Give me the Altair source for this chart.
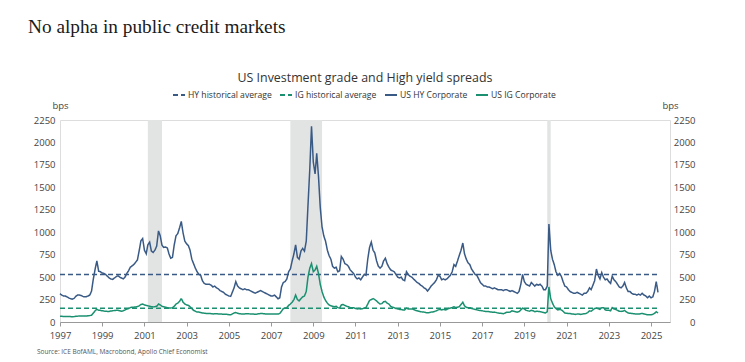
import altair as alt
import pandas as pd

# Monthly spreads (bps), Jan 1997 .. May 2025
HY_SPREAD = [
    315, 300, 290, 290, 280, 268, 260, 255, 262, 285, 300, 300,      # 1997
    295, 285, 280, 282, 290, 300, 345, 480, 590, 680, 565, 560,      # 1998
    545, 540, 530, 510, 490, 478, 475, 490, 505, 515, 500, 490,      # 1999
    480, 500, 540, 570, 610, 625, 640, 665, 690, 790, 905, 930,      # 2000
    800, 760, 860, 890, 790, 775, 800, 845, 1015, 960, 855, 830,     # 2001
    835, 825, 760, 710, 720, 860, 960, 985, 1050, 1120, 990, 900,    # 2002
    870, 850, 800, 700, 650, 600, 560, 530, 520, 460, 430, 420,      # 2003
    420, 420, 410, 390, 400, 380, 370, 350, 340, 330, 310, 300,      # 2004
    290, 285, 330, 380, 450, 400, 380, 370, 360, 370, 360, 360,      # 2005
    350, 340, 330, 320, 330, 340, 350, 340, 330, 320, 310, 300,      # 2006
    290, 290, 300, 280, 258, 270, 390, 440, 450, 480, 560, 590,      # 2007
    680, 760, 860, 720, 700, 790, 820, 790, 900, 1300, 1700, 2180,   # 2008
    1780, 1650, 1880, 1620, 1280, 1060, 960, 900, 800, 740, 700, 620,  # 2009
    600, 610, 560, 570, 730, 700, 650, 640, 620, 580, 560, 540,      # 2010
    500, 480, 490, 470, 500, 530, 520, 700, 830, 890, 800, 770,      # 2011
    680, 620, 600, 620, 680, 710, 650, 610, 580, 570, 560, 530,      # 2012
    500, 490, 500, 470, 460, 560, 530, 510, 500, 480, 460, 440,      # 2013
    430, 410, 400, 380, 370, 345, 370, 400, 420, 440, 470, 520,      # 2014
    510, 470, 480, 470, 480, 500, 520, 560, 640, 620, 680, 740,      # 2015
    800, 880, 760, 700, 660, 640, 590, 560, 530, 520, 480, 440,      # 2016
    420, 400, 400, 390, 390, 380, 370, 380, 370, 360, 360, 360,      # 2017
    350, 360, 360, 350, 340, 350, 340, 330, 320, 340, 420, 530,      # 2018
    450, 420, 410, 400, 440, 420, 400, 420, 410, 420, 400, 360,      # 2019
    360, 400, 1090, 800, 700, 640, 560, 520, 540, 510, 450, 400,     # 2020
    390, 360, 340, 330, 320, 320, 330, 320, 310, 300, 320, 320,      # 2021
    340, 380, 360, 410, 460, 590, 520, 480, 550, 500, 470, 480,      # 2022
    450, 430, 510, 470, 450, 420, 390, 380, 400, 440, 380, 340,      # 2023
    340, 320, 310, 310, 300, 310, 300, 320, 300, 290, 270, 290,      # 2024
    270, 280, 340, 450, 330,                                         # 2025
]

IG_SPREAD = [
    65, 63, 62, 62, 60, 60, 60, 58, 60, 64, 65, 67,                  # 1997
    67, 66, 66, 66, 70, 72, 75, 100, 125, 142, 130, 130,             # 1998
    125, 122, 120, 118, 118, 122, 125, 128, 130, 130, 125, 120,      # 1999
    125, 135, 145, 150, 160, 165, 165, 168, 172, 180, 195, 200,      # 2000
    190, 185, 180, 175, 170, 168, 170, 175, 200, 190, 175, 170,      # 2001
    165, 160, 155, 155, 160, 175, 200, 210, 230, 262, 220, 200,      # 2002
    190, 185, 170, 150, 130, 120, 110, 110, 105, 100, 98, 96,        # 2003
    95, 95, 92, 90, 92, 92, 90, 90, 88, 86, 85, 85,                  # 2004
    82, 80, 90, 100, 105, 98, 92, 90, 88, 90, 92, 92,                # 2005
    90, 88, 88, 86, 88, 92, 94, 94, 92, 90, 90, 88,                  # 2006
    88, 88, 90, 88, 88, 95, 120, 150, 155, 160, 185, 200,            # 2007
    220, 250, 300, 250, 235, 260, 280, 290, 340, 500, 600, 650,      # 2008
    560, 580, 620, 540, 420, 340, 280, 240, 210, 190, 180, 175,      # 2009
    170, 175, 160, 155, 190, 195, 185, 175, 170, 160, 160, 160,      # 2010
    150, 145, 150, 145, 148, 155, 160, 200, 240, 250, 260, 250,      # 2011
    235, 215, 200, 205, 225, 230, 210, 200, 175, 165, 160, 150,      # 2012
    145, 140, 140, 135, 135, 155, 145, 145, 145, 140, 130, 125,      # 2013
    120, 115, 112, 110, 105, 102, 105, 110, 112, 118, 125, 135,      # 2014
    140, 135, 140, 135, 140, 150, 155, 160, 170, 160, 165, 170,      # 2015
    195, 220, 180, 165, 160, 160, 150, 145, 140, 135, 130, 128,      # 2016
    125, 120, 118, 118, 115, 112, 108, 110, 105, 100, 98, 96,        # 2017
    92, 100, 108, 108, 112, 125, 120, 115, 110, 115, 135, 155,       # 2018
    145, 130, 125, 120, 130, 125, 115, 120, 118, 115, 110, 105,      # 2019
    100, 115, 390, 260, 210, 170, 150, 135, 140, 135, 120, 100,      # 2020
    98, 95, 95, 90, 88, 85, 88, 90, 85, 88, 92, 95,                  # 2021
    105, 125, 120, 135, 150, 155, 150, 140, 160, 160, 135, 130,      # 2022
    130, 125, 160, 145, 140, 130, 120, 118, 120, 130, 112, 100,      # 2023
    98, 95, 92, 90, 88, 88, 92, 95, 90, 85, 80, 82,                  # 2024
    80, 85, 95, 115, 100,                                            # 2025
]

HY_AVERAGE = 530
IG_AVERAGE = 152

RECESSION_START = ["2001-03-01", "2007-12-01", "2020-02-01"]
RECESSION_END = ["2001-11-01", "2009-06-01", "2020-04-01"]

SERIES = ["HY historical average", "IG historical average", "US HY Corporate", "US IG Corporate"]
COLORS = ["#3a5a86", "#1a9070", "#3a5a86", "#1a9070"]
DASHES = [[5, 3], [5, 3], [1, 0], [1, 0]]

TITLE = "No alpha in public credit markets"
SUBTITLE = "US Investment grade and High yield spreads"
SOURCE = "Source: ICE BofAML, Macrobond, Apollo Chief Economist"

# ---- build tables ----
dates = pd.date_range("1997-01-01", periods=len(HY_SPREAD), freq="MS").strftime("%Y-%m-%d").tolist()
first, last = dates[0], dates[-1]

rows = []
for s, v in [("HY historical average", HY_AVERAGE), ("IG historical average", IG_AVERAGE)]:
    rows.append({"date": first, "value": v, "series": s})
    rows.append({"date": last, "value": v, "series": s})
for d, v in zip(dates, HY_SPREAD):
    rows.append({"date": d, "value": v, "series": "US HY Corporate"})
for d, v in zip(dates, IG_SPREAD):
    rows.append({"date": d, "value": v, "series": "US IG Corporate"})
lines_df = pd.DataFrame(rows)

rec_df = pd.DataFrame({"start": RECESSION_START, "end": RECESSION_END})

FONT = "Open Sans"
W, H = 610, 202

x_scale = alt.Scale(domain=[alt.DateTime(year=1997, month=1, date=1),
                            alt.DateTime(year=2025, month=11, date=25)])
x_axis = alt.Axis(
    values=[alt.DateTime(year=y, month=1, date=1) for y in range(1997, 2026, 2)],
    format="%Y", title=None, grid=False, domainColor="#999999", tickColor="#999999",
    tickSize=4, labelFont=FONT, labelFontSize=9.5, labelColor="#444444", labelPadding=4,
    labelFlush=False,
)
y_scale = alt.Scale(domain=[0, 2250], nice=False)
y_values = list(range(0, 2251, 250))

legend = alt.Legend(
    orient="none", legendX=112, legendY=-32, direction="horizontal", columns=4,
    title=None, symbolType="stroke", symbolSize=144, symbolStrokeWidth=2,
    labelFont=FONT, labelFontSize=8.6, labelColor="#333333", columnPadding=4,
    labelOffset=2, padding=0, gridAlign="none",
)

rects = alt.Chart(rec_df).mark_rect(color="#e2e3e3").encode(
    x=alt.X("start:T", scale=x_scale, axis=x_axis),
    x2="end:T",
)

lines = alt.Chart(lines_df).mark_line(strokeWidth=1.5).encode(
    x=alt.X("date:T", scale=x_scale, axis=x_axis),
    y=alt.Y("value:Q", scale=y_scale,
            axis=alt.Axis(orient="left", values=y_values, format="d", grid=False, domain=False,
                          ticks=False, tickSize=0, labelFont=FONT, labelFontSize=9.5,
                          labelColor="#444444", labelPadding=5, title="bps", titleAngle=0,
                          titleAlign="center", titleBaseline="middle", titleX=0, titleY=-15,
                          titleFont=FONT, titleFontSize=9.5, titleFontWeight="normal",
                          titleColor="#444444")),
    color=alt.Color("series:N", scale=alt.Scale(domain=SERIES, range=COLORS), legend=legend, sort=SERIES),
    strokeDash=alt.StrokeDash("series:N", scale=alt.Scale(domain=SERIES, range=DASHES), legend=legend, sort=SERIES),
    order=alt.Order("date:T"),
)

right_axis = alt.Chart(lines_df).mark_line(opacity=0).encode(
    x=alt.X("date:T", scale=x_scale, axis=x_axis),
    y=alt.Y("value:Q", scale=y_scale,
            axis=alt.Axis(orient="right", values=y_values, format="d", grid=False, domain=False,
                          ticks=False, tickSize=0, labelFont=FONT, labelFontSize=9.5,
                          labelColor="#444444", labelAlign="right", labelPadding=25, title="bps",
                          titleAngle=0, titleAlign="center", titleBaseline="middle", titleX=0,
                          titleY=-15, titleFont=FONT, titleFontSize=9.5, titleFontWeight="normal",
                          titleColor="#444444")),
    detail="series:N",
)

title_df = pd.DataFrame({"t": [TITLE]})
sub_df = pd.DataFrame({"t": [SUBTITLE]})
src_df = pd.DataFrame({"t": [SOURCE]})

title_txt = alt.Chart(title_df).mark_text(
    font="Liberation Serif", fontSize=19.3, color="#1a1a1a", align="left", baseline="middle"
).encode(text="t:N", x=alt.value(-32), y=alt.value(-93))

sub_txt = alt.Chart(sub_df).mark_text(
    font=FONT, fontSize=12.4, color="#333333", align="center", baseline="middle"
).encode(text="t:N", x=alt.value(W / 2), y=alt.value(-42))

src_txt = alt.Chart(src_df).mark_text(
    font=FONT, fontSize=6.5, color="#555555", align="left", baseline="middle"
).encode(text="t:N", x=alt.value(-23), y=alt.value(232))

chart = alt.layer(rects, lines, right_axis, title_txt, sub_txt, src_txt).resolve_scale(
    y="independent"
).properties(
    width=W, height=H,
    autosize=alt.AutoSizeParams(type="none"),
    padding={"left": 52, "top": 112, "right": 67, "bottom": 40},
).configure_view(stroke=None).configure(background="white")

chart.save("out.html", embed_options={"renderer": "svg", "actions": False})
